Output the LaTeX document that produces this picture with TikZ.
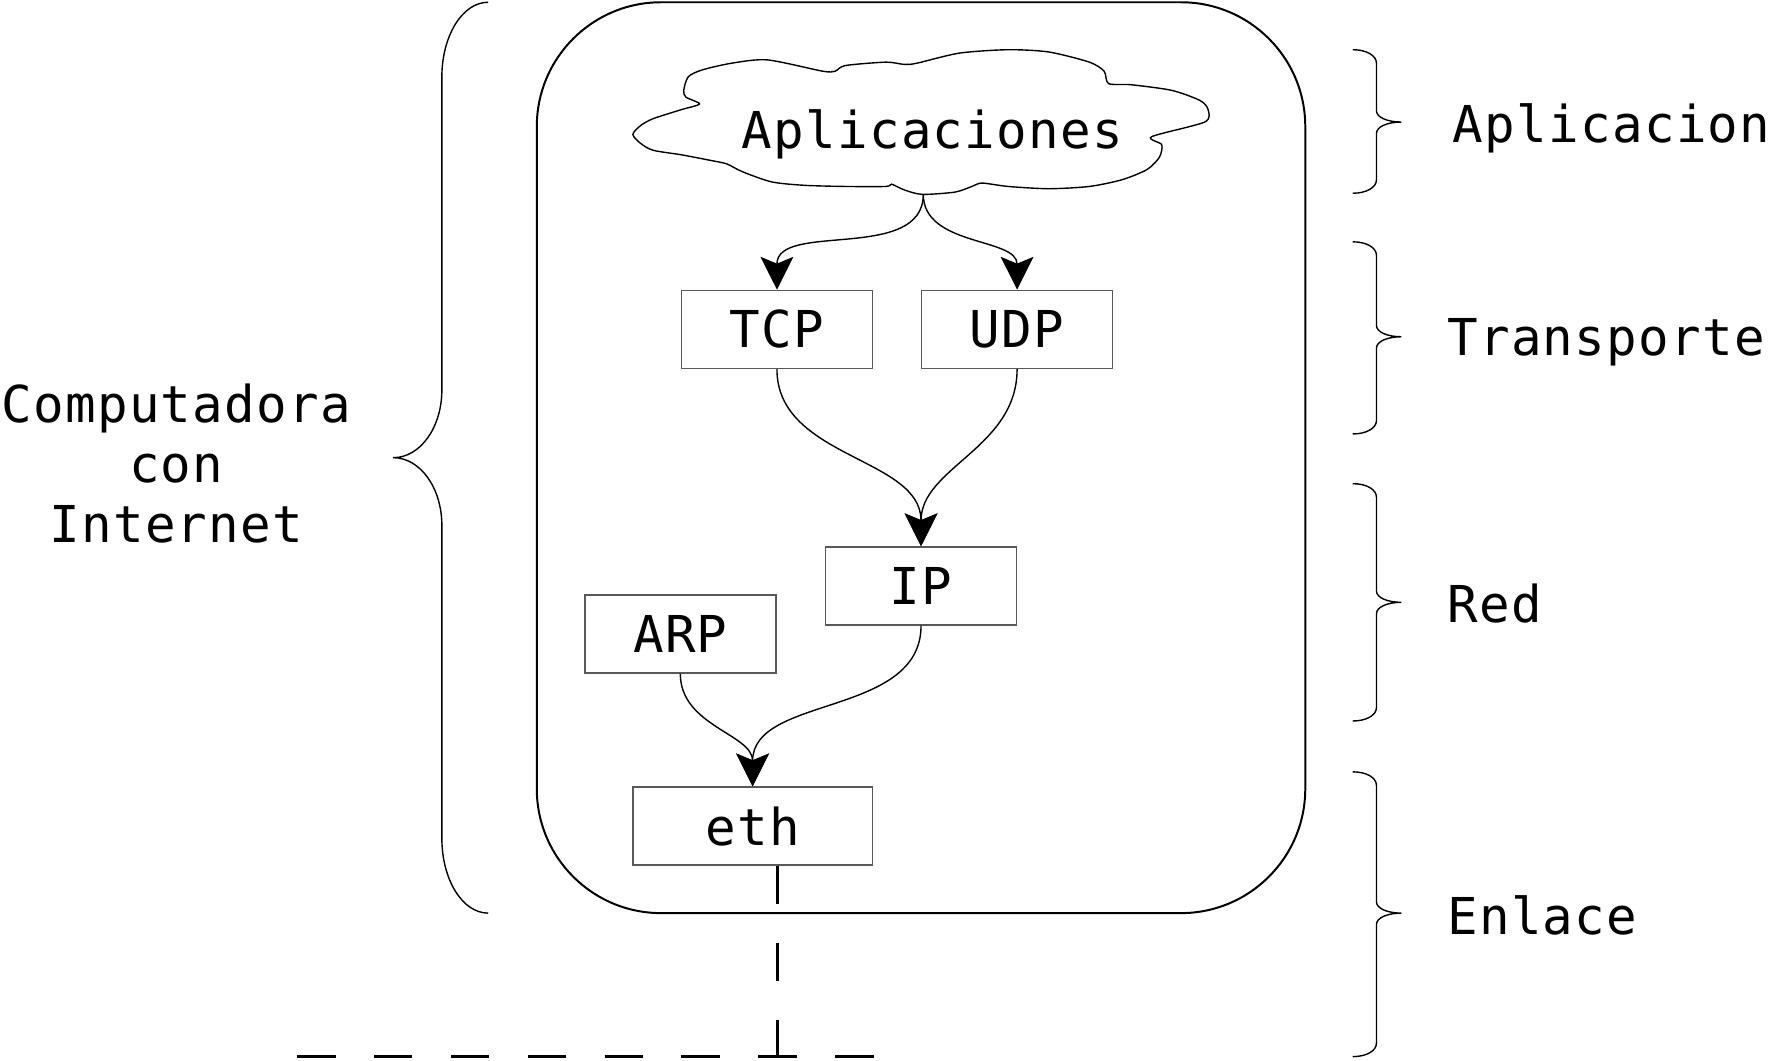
\documentclass[tikz,border=0pt]{standalone}
\usepackage{fontspec}
\setmonofont[LetterSpace=2.5]{DejaVu Sans Mono}
\usetikzlibrary{arrows.meta}

\tikzset{
	layer/.style={draw=black!65,line width=0.4pt,minimum width=16.9mm,minimum height=6.9mm,inner sep=0pt},
	flow/.style={line width=0.35pt,-{Stealth[length=2.9mm,width=2.9mm,inset=0.6mm]},out=-90,in=90},
	bus/.style={line width=0.8pt,dash pattern=on 3.4mm off 3.4mm},
	brace/.style={line width=0.35pt},
	lbl/.style={anchor=base west,inner sep=0pt}
}

\begin{document}
\begin{tikzpicture}[x=0.1mm,y=-0.1mm,font=\ttfamily\fontsize{12.8}{15.1}\selectfont]
	\useasboundingbox (0,0) rectangle (1568,938);
	
	%HOST
	\draw[line width=0.5pt,rounded corners=11mm] (475,2) rectangle (1155,808);
	
	%CLOUD
	\draw[line width=0.35pt] plot[smooth cycle,tension=0.45] coordinates {
		(560,119) (567,111) (578,105) (603,97) (619,92) (607,86) (605,80) (609,68)
		(621,62) (647,56) (679,53) (728,63) (739,63) (748,58) (784,55) (800,57)
		(811,56) (849,47) (892,44) (928,46) (964,55) (977,63) (981,74) (1001,75)
		(1037,80) (1062,89) (1069,97) (1066,108) (1019,121) (1028,128) (1026,139)
		(1015,150) (993,159) (964,165) (928,167) (892,165) (869,162) (860,165)
		(845,170) (816,172) (800,168) (789,163) (784,165) (748,165) (712,164)
		(683,161) (657,152) (643,145) (629,142) (603,137) (578,133) (567,127)};
	\node (apps) at (825,119) {Aplicaciones};
	\coordinate (cloudbot) at (817,172);
	
	%STACK
	\node[layer] (tcp) at (687.5,291.5) {TCP};
	\node[layer] (udp) at (900,291.5) {UDP};
	\node[layer] (ip) at (815,518.5) {IP};
	\node[layer] (arp) at (602,561) {ARP};
	\node[layer,minimum width=21.2mm] (eth) at (666,731) {eth};
	
	\draw[flow] (cloudbot) to (tcp.north);
	\draw[flow] (cloudbot) to (udp.north);
	\draw[flow] (tcp.south) to (ip.north);
	\draw[flow] (udp.south) to (ip.north);
	\draw[flow] (ip.south) to (eth.north);
	\draw[flow] (arp.south) to (eth.north);
	
	%WIRE
	\coordinate (tap) at (688,935);
	\coordinate (lanL) at (263,935);
	\coordinate (lanR) at (773,935);
	\draw[bus] (tap |- eth.south) -- (tap);
	\draw[bus] (lanL) -- (lanR);
	
	%BRACES
	\draw[brace] (432,2) .. controls (409,2) and (391,32) .. (391,68) -- (391,345)
		.. controls (391,378) and (372,405) .. (348,405)
		.. controls (372,405) and (391,432) .. (391,465) -- (391,742)
		.. controls (391,778) and (409,808) .. (432,808);
	
	\foreach \t/\m/\b in {44/108/171,214/298/384,428/533/638,683/808/935}
	\draw[brace] (1197,\t) .. controls (1209,\t) and (1218,\t+5) .. (1218,\t+12) -- (1218,\m-10)
		.. controls (1218,\m-4) and (1228,\m) .. (1240,\m)
		.. controls (1228,\m) and (1218,\m+4) .. (1218,\m+10) -- (1218,\b-12)
		.. controls (1218,\b-5) and (1209,\b) .. (1197,\b);
	
	%LABELS
	\node[align=center] (host) at (156,410) {Computadora\\con\\Internet};
	\node[lbl] (lapp) at (1285,126) {Aplicacion};
	\node[lbl] (ltra) at (1280,315) {Transporte};
	\node[lbl] (lred) at (1280,551) {Red};
	\node[lbl] (lenl) at (1280,827) {Enlace};
\end{tikzpicture}
\end{document}
